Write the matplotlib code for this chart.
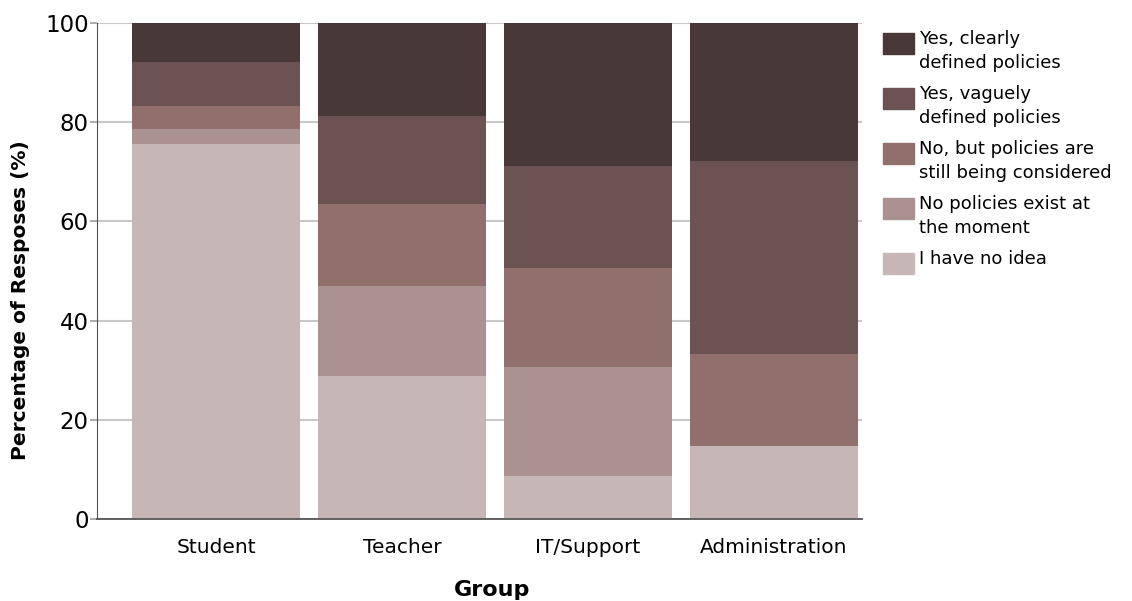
import numpy as np
import matplotlib.pyplot as plt
from matplotlib.patches import Rectangle

groups = ["Student", "Teacher", "IT/Support", "Administration"]

# response shares per group (%), bottom of the stack first
no_idea = [75.6, 28.9, 8.6, 14.7]
no_policies = [3.0, 18.1, 22.0, 0.0]
considering = [4.7, 16.5, 20.1, 18.6]
vaguely = [8.8, 17.75, 20.4, 38.9]
clearly = [7.9, 18.75, 28.9, 27.8]

series = [no_idea, no_policies, considering, vaguely, clearly]
labels = ["I have no idea",
          "No policies exist at\nthe moment",
          "No, but policies are\nstill being considered",
          "Yes, vaguely\ndefined policies",
          "Yes, clearly\ndefined policies"]
colors = ["#c6b6b6", "#aa9291", "#916f6d", "#6b5353", "#483838"]

plt.rcParams['font.family'] = ['DejaVu Sans']

fig = plt.figure(figsize=(11.32, 6.01), dpi=100)
ax = fig.add_axes([0.0857, 0.1364, 0.6758, 0.8253])

x = np.arange(len(groups))
bottom = np.zeros(len(groups))
for vals, col in zip(series, colors):
    vals = np.array(vals)
    ax.bar(x, vals, bottom=bottom, width=0.903, color=col, zorder=2)
    bottom += vals

ax.set_xlim(-0.64, 3.473)
ax.set_ylim(0, 100)
ax.set_yticks([0, 20, 40, 60, 80, 100])
ax.yaxis.grid(True, color="#c8c8c8", linewidth=1.5, zorder=0)
ax.set_axisbelow(True)
ax.set_xticks(x)
ax.set_xticklabels(groups, fontsize=14.5)
ax.tick_params(axis="x", length=0, pad=14)
ax.tick_params(axis="y", labelsize=16.5, length=5, color="#a0a0a0", width=1.2, pad=1)

for side in ["top", "right"]:
    ax.spines[side].set_visible(False)
ax.spines["left"].set_color("#555555")
ax.spines["bottom"].set_color("#555555")
ax.spines["bottom"].set_linewidth(1.3)

ax.set_ylabel("Percentage of Resposes (%)", fontsize=14.5, fontweight="bold")
ax.yaxis.set_label_coords(-0.0875, 0.4415)
ax.set_xlabel("Group", fontsize=16, fontweight="bold")
ax.xaxis.set_label_coords(0.517, -0.122)

# legend drawn by hand, top entry first
W, H = 1132, 601
for i, (lab, col) in enumerate(zip(labels[::-1], colors[::-1])):
    top = 33 + i * 55
    fig.add_artist(Rectangle((883 / W, 1 - (top + 21) / H), 31 / W, 21 / H,
                             transform=fig.transFigure, color=col))
    fig.text(919 / W, 1 - (top - 3) / H, lab, fontsize=13, va="top", ha="left",
             linespacing=1.4)

fig.savefig("out.png", dpi=100)
